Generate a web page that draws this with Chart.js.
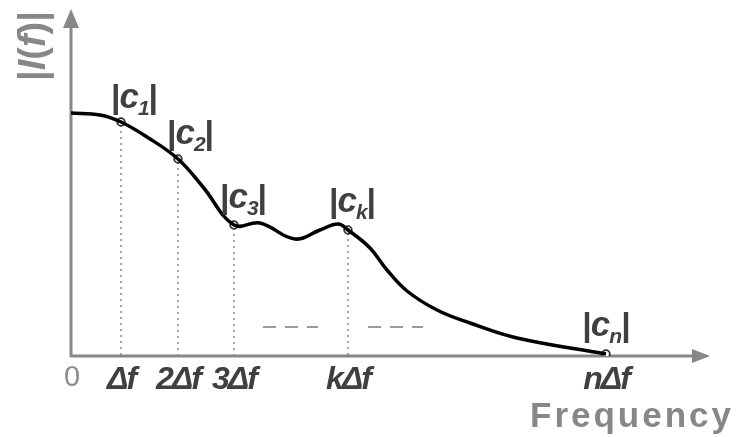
<!DOCTYPE html>
<html>
<head>
<meta charset="utf-8">
<script src="https://cdn.jsdelivr.net/npm/chart.js@4/dist/chart.umd.min.js"></script>
<style>
  html, body { margin: 0; padding: 0; background: #ffffff; }
  #wrap { width: 739px; height: 437px; }
</style>
</head>
<body>
<div id="wrap"><canvas id="spectrum" width="739" height="437"></canvas></div>
<script>
// Frequency axis ticks (harmonic positions) and their labels
const freqTicks = [0, 50, 107, 163, 277, 535];
const tickLabels = ['0', 'Δf', '2Δf', '3Δf', 'kΔf', 'nΔf'];

// Continuous magnitude spectrum |I(f)|
const curveFreq = [0, 29, 50, 76, 107, 132, 163, 189, 224, 249, 267, 277, 299, 316, 336, 366, 399, 446, 535];
const curveMag  = [243, 241, 234, 219, 197, 169, 131, 133, 117, 126, 132, 126, 108, 86, 65, 46, 33, 18, 2];

// Sampled coefficients |c_i|
const coefFreq = [50, 107, 163, 277, 535];
const coefMag  = [234, 197, 131, 126, 2];
const coefSubs = ['1', '2', '3', 'k', 'n'];
// label placement relative to each marker (px): [dx of label centre, gap above marker]
const coefLabelOffsets = [[13, 7], [12, 8], [9, 10], [4, 11], [0, 11]];

// Omitted-harmonics dashes ("- - -") between 3Δf and kΔf and after kΔf
const gapDashFreq = [[192, 247], [297, 352]];
const gapDashMag = 29;

const AXIS_GREY = '#878787';
const TEXT_DARK = '#404040';
const FONT = '"Liberation Sans", Arial, sans-serif';

function drawRuns(ctx, runs, cx, baseline, spacing) {
  ctx.save();
  ctx.textBaseline = 'alphabetic';
  ctx.textAlign = 'left';
  ctx.letterSpacing = spacing + 'px';
  let total = 0;
  runs.forEach(r => { ctx.font = r.font; r.w = ctx.measureText(r.text).width; total += r.w; });
  let x = cx - total / 2;
  runs.forEach(r => {
    ctx.font = r.font;
    ctx.fillStyle = r.color;
    ctx.fillText(r.text, x, baseline + (r.dy || 0));
    x += r.w;
  });
  ctx.restore();
}

const decorations = {
  id: 'decorations',
  beforeDraw(chart) {
    // tight, condensed look for the harmonic tick labels
    chart.ctx.letterSpacing = '-2px';
  },
  beforeDatasetsDraw(chart) {
    const { ctx, scales: { x, y } } = chart;
    ctx.letterSpacing = '0px';
    const x0 = x.getPixelForValue(0), y0 = y.getPixelForValue(0);
    const yTop = y.getPixelForValue(y.max), xEnd = x.getPixelForValue(x.max) - 21;
    ctx.save();
    // dotted drop lines from each coefficient to the frequency axis
    ctx.strokeStyle = '#8a8a8a';
    ctx.lineWidth = 1.5;
    ctx.setLineDash([2, 4]);
    coefFreq.forEach((f, i) => {
      const px = x.getPixelForValue(f);
      ctx.beginPath();
      ctx.moveTo(px, y.getPixelForValue(coefMag[i]) + 3);
      ctx.lineTo(px, y0);
      ctx.stroke();
    });
    // dashes for the harmonics that are not drawn
    ctx.strokeStyle = '#9a9a9a';
    ctx.lineWidth = 2;
    ctx.setLineDash([13, 9]);
    gapDashFreq.forEach(([a, b]) => {
      ctx.beginPath();
      ctx.moveTo(x.getPixelForValue(a), y.getPixelForValue(gapDashMag));
      ctx.lineTo(x.getPixelForValue(b), y.getPixelForValue(gapDashMag));
      ctx.stroke();
    });
    ctx.setLineDash([]);
    // axes with arrow heads
    ctx.strokeStyle = AXIS_GREY;
    ctx.fillStyle = AXIS_GREY;
    ctx.lineWidth = 3;
    ctx.beginPath();
    ctx.moveTo(x0, y0 + 1);
    ctx.lineTo(x0, yTop + 16);
    ctx.moveTo(x0 - 1, y0);
    ctx.lineTo(xEnd - 14, y0);
    ctx.stroke();
    ctx.beginPath();
    ctx.moveTo(x0, yTop - 1);
    ctx.lineTo(x0 - 8, yTop + 18);
    ctx.lineTo(x0 + 8, yTop + 18);
    ctx.closePath();
    ctx.fill();
    ctx.beginPath();
    ctx.moveTo(xEnd, y0);
    ctx.lineTo(xEnd - 18, y0 - 7);
    ctx.lineTo(xEnd - 18, y0 + 7);
    ctx.closePath();
    ctx.fill();
    ctx.restore();
  },
  afterDatasetsDraw(chart) {
    const { ctx, scales: { x, y } } = chart;
    // coefficient labels |c_i|
    coefFreq.forEach((f, i) => {
      const px = x.getPixelForValue(f), py = y.getPixelForValue(coefMag[i]);
      const [dx, gap] = coefLabelOffsets[i];
      const base = py - gap - 7;
      drawRuns(ctx, [
        { text: '|', font: `bold 34px ${FONT}`, color: TEXT_DARK },
        { text: 'c', font: `italic bold 35px ${FONT}`, color: TEXT_DARK },
        { text: coefSubs[i], font: `italic bold 21px ${FONT}`, color: TEXT_DARK, dy: 7 },
        { text: '|', font: `bold 34px ${FONT}`, color: TEXT_DARK }
      ], px + dx, base, -1);
    });
    // magnitude axis title
    ctx.save();
    ctx.translate(45, 46);
    ctx.rotate(-Math.PI / 2);
    drawRuns(ctx, [
      { text: '|', font: `bold 38px ${FONT}`, color: AXIS_GREY },
      { text: 'I', font: `italic bold 38px ${FONT}`, color: AXIS_GREY },
      { text: '(', font: `bold 38px ${FONT}`, color: AXIS_GREY },
      { text: 'f', font: `italic bold 38px ${FONT}`, color: AXIS_GREY },
      { text: ')|', font: `bold 38px ${FONT}`, color: AXIS_GREY }
    ], 0, 0, 0);
    ctx.restore();
    // frequency axis title
    ctx.save();
    ctx.font = `bold 35px ${FONT}`;
    ctx.letterSpacing = '3px';
    ctx.fillStyle = AXIS_GREY;
    ctx.textAlign = 'left';
    ctx.textBaseline = 'alphabetic';
    ctx.fillText('Frequency', 530, 427);
    ctx.restore();
  }
};

new Chart(document.getElementById('spectrum'), {
  type: 'line',
  data: {
    datasets: [
      {
        data: curveFreq.map((f, i) => ({ x: f, y: curveMag[i] })),
        borderColor: '#000000',
        borderWidth: 3.5,
        pointRadius: 0,
        tension: 0.4,
        fill: false
      },
      {
        data: coefFreq.map((f, i) => ({ x: f, y: coefMag[i] })),
        showLine: false,
        pointRadius: 3.8,
        pointBorderWidth: 1.8,
        pointBackgroundColor: '#ffffff',
        pointBorderColor: '#303030'
      }
    ]
  },
  options: {
    responsive: false,
    animation: false,
    layout: { padding: { left: 71, right: 8, top: 10, bottom: 0 } },
    plugins: { legend: { display: false }, tooltip: { enabled: false } },
    scales: {
      x: {
        type: 'linear',
        min: 0,
        max: 660,
        grid: { display: false, drawTicks: false },
        border: { display: false },
        afterBuildTicks: scale => { scale.ticks = freqTicks.map(v => ({ value: v })); },
        afterFit: scale => { scale.height = 81; },
        ticks: {
          autoSkip: false,
          maxRotation: 0,
          padding: 5,
          callback: (v, i) => tickLabels[i],
          color: ctx => ctx.index === 0 ? '#8c8c8c' : TEXT_DARK,
          font: ctx => ctx.index === 0
            ? { family: FONT, size: 29, weight: 'normal' }
            : { family: FONT, size: 32, weight: 'bold', style: 'italic' }
        }
      },
      y: {
        display: false,
        min: 0,
        max: 346
      }
    }
  },
  plugins: [decorations]
});
</script>
</body>
</html>
